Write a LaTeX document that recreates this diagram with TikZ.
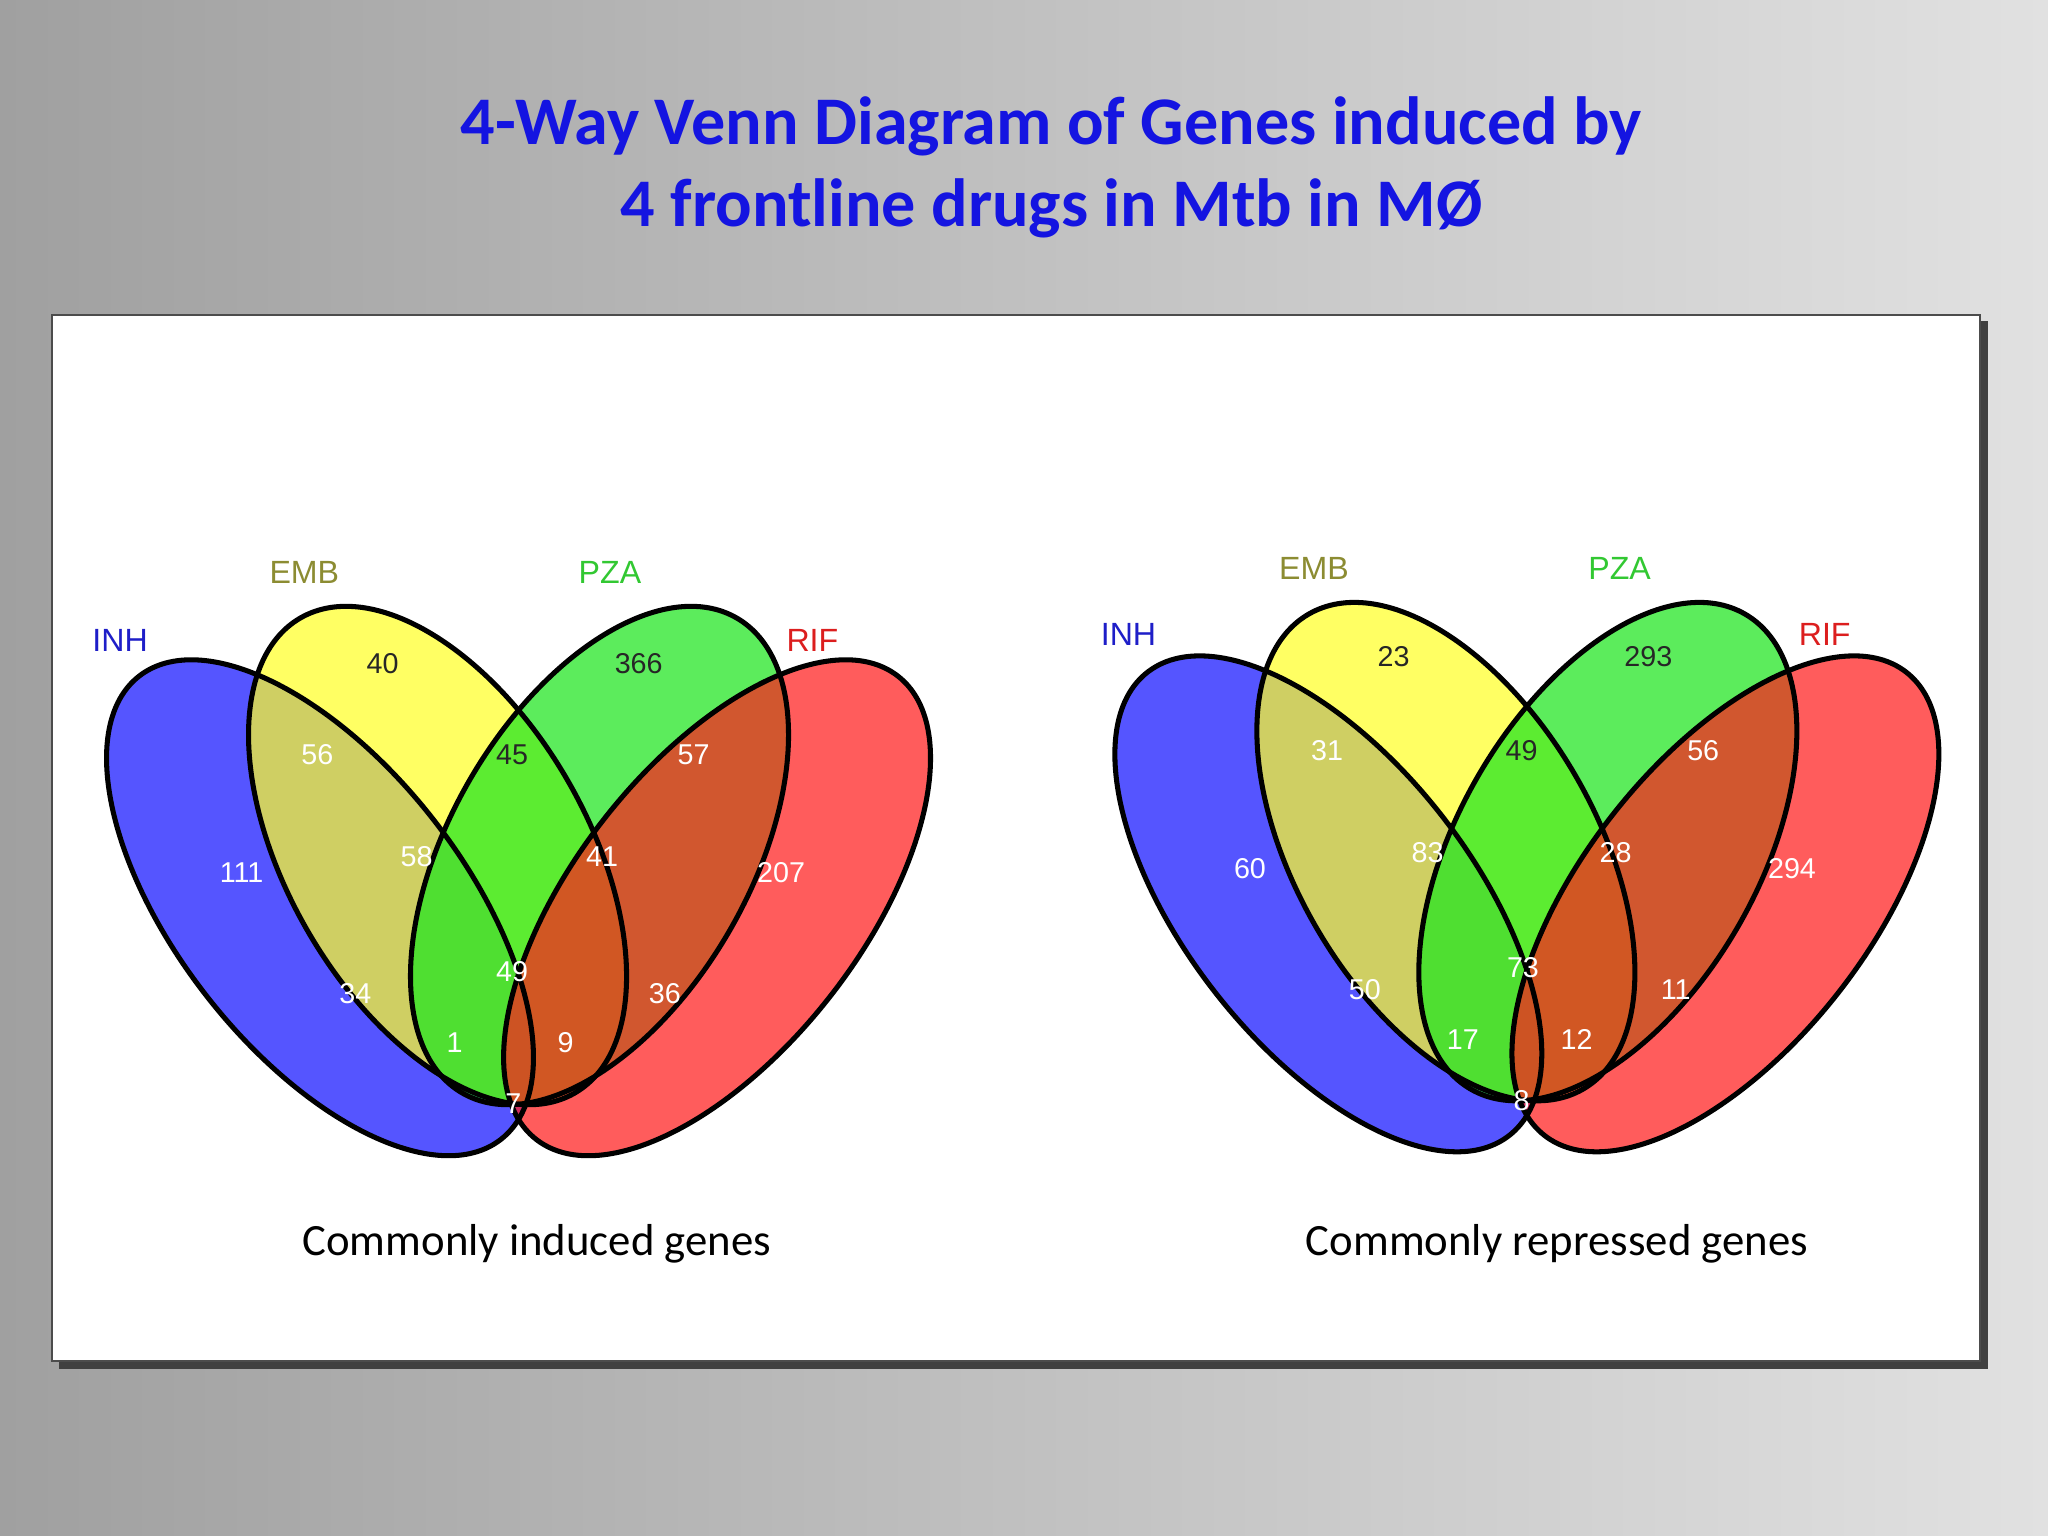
\documentclass[tikz,border=0pt]{standalone}
\usepackage{fontspec}
\setmainfont{Carlito}
\newfontfamily\vsans{Liberation Sans}
\definecolor{ttl}{RGB}{20,20,225}
\definecolor{cB}{RGB}{20,20,255}
\definecolor{cY}{RGB}{255,255,40}
\definecolor{cG}{RGB}{30,230,30}
\definecolor{cR}{RGB}{255,30,30}
\definecolor{lEMB}{RGB}{140,140,50}
\definecolor{lPZA}{RGB}{50,200,50}
\definecolor{lINH}{RGB}{30,30,200}
\definecolor{lRIF}{RGB}{220,30,30}
\tikzset{
  ell/.style={fill opacity=0.72},
  num/.style={font=\vsans\fontsize{12.5}{14}\selectfont,text=white},
  numd/.style={font=\vsans\fontsize{12.5}{14}\selectfont,text=black!85},
  lab/.style={font=\vsans\fontsize{14}{16}\selectfont},
  captext/.style={font=\fontsize{19.5}{22}\selectfont}
}
\newcommand{\venn}{%
  \fill[cB,ell,rotate around={-52:(245,695)}] (245,695) ellipse [x radius=225,y radius=110];
  \fill[cY,ell,rotate around={-60:(335,655)}] (335,655) ellipse [x radius=210,y radius=115];
  \fill[cG,ell,rotate around={60:(459,655)}] (459,655) ellipse [x radius=210,y radius=115];
  \fill[cR,ell,rotate around={52:(549,695)}] (549,695) ellipse [x radius=225,y radius=110];
  \draw[line width=2.2pt,rotate around={-52:(245,695)}] (245,695) ellipse [x radius=225,y radius=110];
  \draw[line width=2.2pt,rotate around={-60:(335,655)}] (335,655) ellipse [x radius=210,y radius=115];
  \draw[line width=2.2pt,rotate around={60:(459,655)}] (459,655) ellipse [x radius=210,y radius=115];
  \draw[line width=2.2pt,rotate around={52:(549,695)}] (549,695) ellipse [x radius=225,y radius=110];
}
\begin{document}
\begin{tikzpicture}[x=0.02cm,y=-0.02cm]
\useasboundingbox (0,0) rectangle (1568,1176);
\shade[left color={rgb,255:red,160;green,160;blue,160},right color={rgb,255:red,225;green,225;blue,225}] (0,0) rectangle (1568,1176);
\node[font=\bfseries\fontsize{29.7}{36}\selectfont,text=ttl,align=center] (title) at (805,128) {4-Way Venn Diagram of Genes induced by\\4 frontline drugs in Mtb in MØ};
\fill[black!75] (45,246) rectangle (1522,1048);
\fill[white,draw=black!70,line width=0.8pt] (40,241) rectangle (1516,1042);
\begin{scope}
\venn
\end{scope}
\node[numd] (a1) at (293,508) {40};
\node[numd] (a2) at (489,508) {366};
\node[num] (a3) at (243,578) {56};
\node[numd] (a4) at (392,578) {45};
\node[num] (a5) at (531,578) {57};
\node[num] (a6) at (185,668) {111};
\node[num] (a7) at (319,656) {58};
\node[num] (a8) at (461,656) {41};
\node[num] (a9) at (598,668) {207};
\node[num] (a10) at (272,761) {34};
\node[num] (a11) at (392,744) {49};
\node[num] (a12) at (509,761) {36};
\node[num] (a13) at (348,798) {1};
\node[num] (a14) at (433,798) {9};
\node[num] (a15) at (393,845) {7};
\node[lab,text=lINH] (li) at (92,490) {INH};
\node[lab,text=lEMB] (le) at (233,438) {EMB};
\node[lab,text=lPZA] (lp) at (467,438) {PZA};
\node[lab,text=lRIF] (lr) at (622,490) {RIF};
\begin{scope}[shift={(772,-3)}]
\venn
\end{scope}
\node[numd] (b1) at (1067,503) {23};
\node[numd] (b2) at (1262,503) {293};
\node[num] (b3) at (1016,575) {31};
\node[numd] (b4) at (1165,575) {49};
\node[num] (b5) at (1304,575) {56};
\node[num] (b6) at (957,665) {60};
\node[num] (b7) at (1093,653) {83};
\node[num] (b8) at (1237,653) {28};
\node[num] (b9) at (1372,665) {294};
\node[num] (b10) at (1045,758) {50};
\node[num] (b11) at (1166,741) {73};
\node[num] (b12) at (1283,758) {11};
\node[num] (b13) at (1120,796) {17};
\node[num] (b14) at (1207,796) {12};
\node[num] (b15) at (1165,843) {8};
\node[lab,text=lINH] (ri) at (864,486) {INH};
\node[lab,text=lEMB] (re) at (1006,435) {EMB};
\node[lab,text=lPZA] (rp) at (1240,435) {PZA};
\node[lab,text=lRIF] (rr) at (1397,486) {RIF};
\node[captext] (c1) at (411,952) {Commonly induced genes};
\node[captext] (c2) at (1192,952) {Commonly repressed genes};
\end{tikzpicture}
\end{document}
